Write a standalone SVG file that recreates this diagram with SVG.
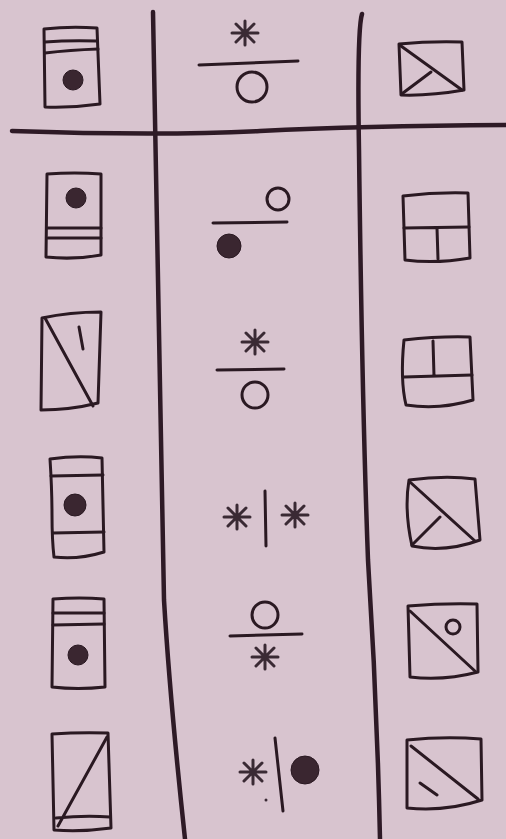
<svg xmlns="http://www.w3.org/2000/svg" width="506" height="839" viewBox="0 0 506 839">
<defs>
<style>
.bg{fill:#d8c4cf}
.s{fill:none;stroke:#2a1922;stroke-width:3;stroke-linecap:round;stroke-linejoin:round}
.g{fill:none;stroke:#2e1a26;stroke-width:4.5;stroke-linecap:round;stroke-linejoin:round}
.d{fill:#3a2630;stroke:#2a1922;stroke-width:1}
.a{fill:none;stroke:#3a2a34;stroke-width:3;stroke-linecap:round}
</style>
<g id="ast">
<path class="a" d="M0,-12V12M-13,0H13M-9,-9L9,9M-9,9L9,-9"/>
</g>
</defs>
<rect class="bg" width="506" height="839"/>
<g id="grid">
<path class="g" d="M12,131 Q160,136 260,131 T506,125"/>
<path class="g" d="M153,12 Q158,300 164,600 Q170,700 185,839"/>
<path class="g" d="M362,14 Q357,30 359,150 Q362,400 368,560 Q377,700 380,839"/>
</g>
<g id="r1c1">
<path class="s" d="M44,29 Q70,26 97,28 L100,104 Q72,108 45,107 Z"/>
<path class="s" d="M45,42 Q70,40 97,41 M45,53 Q70,50 98,49"/>
<circle class="d" cx="73" cy="80" r="10"/>
</g>
<g id="r1c2">
<use href="#ast" x="245" y="33"/>
<path class="s" d="M199,65 Q250,63 298,61"/>
<circle class="s" cx="252" cy="87" r="15"/>
</g>
<g id="r1c3">
<path class="s" d="M399,44 Q430,41 462,42 L464,90 Q430,96 401,95 Z"/>
<path class="s" d="M401,46 L462,90 M403,93 L431,72"/>
</g>
<g id="r2c1">
<path class="s" d="M47,174 Q75,172 101,174 L101,255 Q74,260 46,257 Z"/>
<path class="s" d="M48,228 L101,228 M48,238 L101,238"/>
<circle class="d" cx="76" cy="198" r="10"/>
</g>
<g id="r2c2">
<circle class="s" cx="278" cy="199" r="11"/>
<path class="s" d="M213,223 L287,222"/>
<circle class="d" cx="229" cy="246" r="12"/>
</g>
<g id="r2c3">
<path class="s" d="M403,196 Q436,192 468,193 L470,258 Q436,264 405,260 Z"/>
<path class="s" d="M404,228 L469,227 M437,228 L438,259"/>
</g>
<g id="r3c1">
<path class="s" d="M42,318 Q70,312 101,312 L98,403 Q70,410 41,410 Z"/>
<path class="s" d="M45,318 L93,406 M79,327 L83,349"/>
</g>
<g id="r3c2">
<use href="#ast" x="255" y="342"/>
<path class="s" d="M217,370 L284,369"/>
<circle class="s" cx="255" cy="395" r="13"/>
</g>
<g id="r3c3">
<path class="s" d="M404,340 Q440,336 470,337 L473,400 Q440,410 406,405 Q400,380 404,340 Z"/>
<path class="s" d="M404,377 L472,375 M433,341 L434,376"/>
</g>
<g id="r4c1">
<path class="s" d="M50,459 Q78,455 102,458 L104,552 Q78,560 54,557 Q52,540 52,515 Q52,490 50,459 Z"/>
<path class="s" d="M51,476 L103,475 M53,533 L104,532"/>
<circle class="d" cx="75" cy="505" r="11"/>
</g>
<g id="r4c2">
<use href="#ast" x="237" y="517"/>
<path class="s" d="M265,491 L266,546"/>
<use href="#ast" x="295" y="515"/>
</g>
<g id="r4c3">
<path class="s" d="M409,480 Q445,475 475,479 L480,540 Q445,553 412,546 Q404,510 409,480 Z"/>
<path class="s" d="M410,482 L475,541 M412,545 L440,517"/>
</g>
<g id="r5c1">
<path class="s" d="M53,599 Q80,597 104,599 L105,687 Q78,690 52,687 Z"/>
<path class="s" d="M53,613 L104,613 M53,625 L104,624"/>
<circle class="d" cx="78" cy="655" r="10"/>
</g>
<g id="r5c2">
<circle class="s" cx="265" cy="615" r="13"/>
<path class="s" d="M230,636 L302,634"/>
<use href="#ast" x="265" y="657"/>
</g>
<g id="r5c3">
<path class="s" d="M408,606 Q444,603 477,604 L478,672 Q444,681 410,677 Z"/>
<path class="s" d="M410,611 L476,672"/>
<circle class="s" cx="453" cy="627" r="7"/>
</g>
<g id="r6c1">
<path class="s" d="M52,734 Q80,732 108,733 L111,828 Q82,832 54,830 Z"/>
<path class="s" d="M58,826 L107,737 M56,818 Q85,815 110,817"/>
</g>
<g id="r6c2">
<use href="#ast" x="253" y="772"/>
<path class="s" d="M275,738 L283,811"/>
<circle class="d" cx="305" cy="770" r="14"/>
<circle cx="266" cy="800" r="1.5" fill="#3a2a34"/>
</g>
<g id="r6c3">
<path class="s" d="M407,740 Q445,736 481,739 L482,800 Q445,812 407,808 Z"/>
<path class="s" d="M411,746 L478,799 M420,783 L437,795"/>
</g>
</svg>
